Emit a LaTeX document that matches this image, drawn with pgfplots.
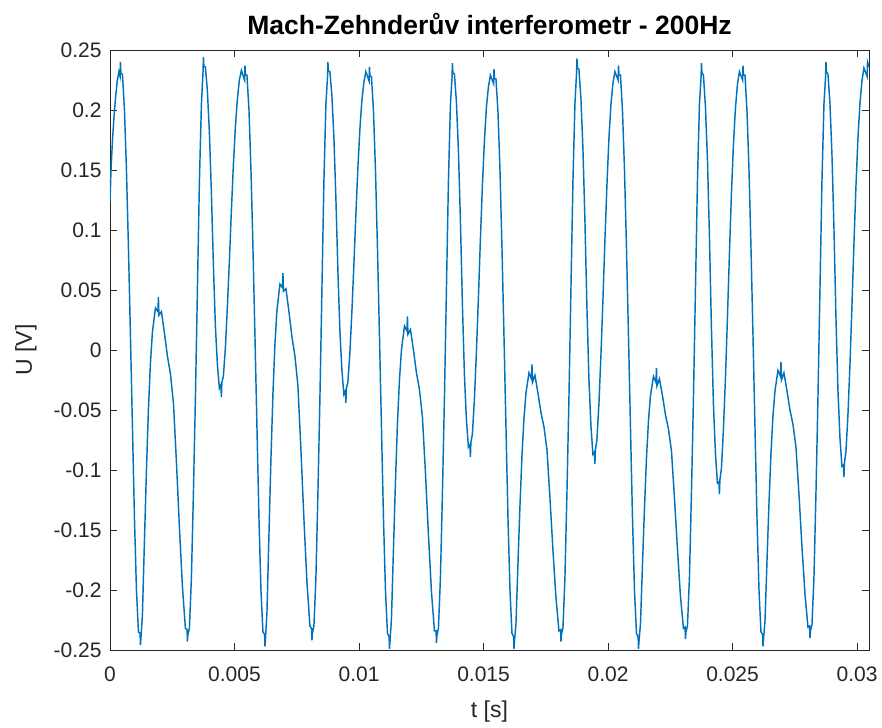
\documentclass[border=0pt]{standalone}
\usepackage{pgfplots}
\pgfplotsset{compat=1.18}
\usepackage{fontspec}
\setmainfont{Liberation Sans}
\definecolor{mblue}{RGB}{0,114,189}
\definecolor{axgray}{RGB}{38,38,38}
\begin{document}
\begin{tikzpicture}
\path[use as bounding box] (-110bp,-78bp) rectangle (772bp,650bp);
\begin{axis}[
  at={(0,0)}, anchor=south west,
  scale only axis, width=759bp, height=600bp,
  xmin=0, xmax=0.03048, ymin=-0.25, ymax=0.25,
  xtick={0,0.005,0.01,0.015,0.02,0.025,0.03},
  xticklabels={0,0.005,0.01,0.015,0.02,0.025,0.03},
  ytick={-0.25,-0.2,-0.15,-0.1,-0.05,0,0.05,0.1,0.15,0.2,0.25},
  yticklabels={-0.25,-0.2,-0.15,-0.1,-0.05,0,0.05,0.1,0.15,0.2,0.25},
  scaled x ticks=false, scaled y ticks=false,
  tick align=inside, major tick length=7bp,
  axis line style={axgray, line width=0.9bp},
  every tick/.style={axgray, line width=0.9bp},
  tick label style={font=\fontsize{21bp}{25bp}\selectfont, text=axgray},
  xticklabel style={yshift=-13bp},
  yticklabel style={xshift=-5bp},
  title={Mach-Zehnderův interferometr - 200Hz},
  title style={font=\bfseries\fontsize{26.5bp}{30bp}\selectfont, at={([yshift=10bp]axis description cs:0.5,1)}, anchor=base},
  xlabel={t [s]}, ylabel={U [V]},
  label style={font=\fontsize{23bp}{27bp}\selectfont, text=axgray},
  xlabel style={at={([yshift=-67bp]axis description cs:0.5,0)}, anchor=base},
  ylabel style={at={([xshift=-78bp]axis description cs:0,0.5)}, anchor=base},
]
\addplot[mblue, line width=1.45bp] coordinates {
(0,0.123) (0.00004,0.150) (0.00010,0.175) (0.00016,0.194) (0.00023,0.212) (0.00029,0.224) (0.00036,0.232) (0.000405,0.228) (0.000420,0.240) (0.00044,0.230)
(0.000500,0.230) (0.000581,0.200) (0.000661,0.150) (0.000741,0.085) (0.000821,0.012) (0.000902,-0.065) (0.000982,-0.140) (0.001062,-0.200) (0.001142,-0.235) (0.001208,-0.236) (0.001223,-0.246) (0.001243,-0.240)
(0.001303,-0.220) (0.001383,-0.159) (0.001463,-0.101) (0.001544,-0.049) (0.001624,-0.011) (0.001704,0.015) (0.001825,0.035) (0.001925,0.032) (0.001945,0.044) (0.001965,0.029)
(0.002065,0.032) (0.002186,0.014) (0.002306,-0.005) (0.002427,-0.020) (0.002547,-0.044) (0.002667,-0.093) (0.002788,-0.148) (0.002908,-0.197) (0.003028,-0.232) (0.003094,-0.233) (0.003109,-0.243) (0.003129,-0.237)
(0.003189,-0.232) (0.003269,-0.190) (0.003349,-0.120) (0.003430,-0.040) (0.003510,0.050) (0.003590,0.140) (0.003671,0.205) (0.003736,0.232) (0.003751,0.244) (0.003771,0.236)
(0.003831,0.236) (0.003911,0.216) (0.003992,0.181) (0.004072,0.131) (0.004152,0.071) (0.004232,0.020) (0.004313,-0.012) (0.004393,-0.032) (0.004453,-0.029) (0.004473,-0.039) (0.004493,-0.027)
(0.004553,-0.022) (0.004634,0.002) (0.004714,0.036) (0.004794,0.074) (0.004874,0.116) (0.004955,0.154) (0.005035,0.186) (0.005115,0.209) (0.005195,0.225) (0.005276,0.233)
(0.005405,0.225) (0.005420,0.237) (0.005440,0.229)
(0.005500,0.229) (0.005581,0.200) (0.005661,0.150) (0.005741,0.085) (0.005821,0.012) (0.005902,-0.065) (0.005982,-0.140) (0.006062,-0.200) (0.006142,-0.235) (0.006208,-0.237) (0.006223,-0.247) (0.006243,-0.241)
(0.006303,-0.219) (0.006383,-0.154) (0.006463,-0.091) (0.006544,-0.036) (0.006624,0.005) (0.006704,0.033) (0.006825,0.055) (0.006925,0.052) (0.006945,0.064) (0.006965,0.049)
(0.007065,0.051) (0.007186,0.032) (0.007306,0.011) (0.007427,-0.005) (0.007547,-0.030) (0.007667,-0.083) (0.007788,-0.141) (0.007908,-0.193) (0.008028,-0.230) (0.008094,-0.232) (0.008109,-0.242) (0.008129,-0.236)
(0.008189,-0.230) (0.008269,-0.190) (0.008349,-0.120) (0.008430,-0.040) (0.008510,0.050) (0.008590,0.140) (0.008671,0.205) (0.008736,0.228) (0.008751,0.240) (0.008771,0.232)
(0.008831,0.232) (0.008911,0.212) (0.008992,0.177) (0.009072,0.126) (0.009152,0.066) (0.009232,0.016) (0.009313,-0.017) (0.009393,-0.037) (0.009453,-0.034) (0.009473,-0.044) (0.009493,-0.032)
(0.009553,-0.027) (0.009634,-0.002) (0.009714,0.032) (0.009794,0.071) (0.009874,0.113) (0.009955,0.152) (0.010035,0.184) (0.010115,0.208) (0.010195,0.223) (0.010276,0.232)
(0.010405,0.224) (0.010420,0.236) (0.010440,0.228)
(0.010500,0.228) (0.010581,0.199) (0.010661,0.150) (0.010741,0.085) (0.010821,0.012) (0.010902,-0.065) (0.010982,-0.140) (0.011062,-0.200) (0.011142,-0.236) (0.011208,-0.239) (0.011223,-0.249) (0.011243,-0.243)
(0.011303,-0.224) (0.011383,-0.166) (0.011463,-0.110) (0.011544,-0.061) (0.011624,-0.025) (0.011704,0.000) (0.011825,0.020) (0.011925,0.016) (0.011945,0.028) (0.011965,0.013)
(0.012065,0.017) (0.012186,0.000) (0.012306,-0.019) (0.012427,-0.033) (0.012547,-0.056) (0.012667,-0.102) (0.012788,-0.154) (0.012908,-0.201) (0.013028,-0.234) (0.013094,-0.234) (0.013109,-0.244) (0.013129,-0.238)
(0.013189,-0.232) (0.013269,-0.190) (0.013349,-0.120) (0.013430,-0.040) (0.013510,0.050) (0.013590,0.140) (0.013671,0.205) (0.013736,0.227) (0.013751,0.239) (0.013771,0.231)
(0.013831,0.230) (0.013911,0.207) (0.013992,0.166) (0.014072,0.108) (0.014152,0.038) (0.014232,-0.020) (0.014313,-0.058) (0.014393,-0.081) (0.014453,-0.079) (0.014473,-0.089) (0.014493,-0.077)
(0.014553,-0.070) (0.014634,-0.041) (0.014714,-0.002) (0.014794,0.043) (0.014874,0.092) (0.014955,0.137) (0.015035,0.174) (0.015115,0.202) (0.015195,0.219) (0.015276,0.229)
(0.015405,0.222) (0.015420,0.234) (0.015440,0.226)
(0.015500,0.226) (0.015581,0.198) (0.015661,0.150) (0.015741,0.085) (0.015821,0.012) (0.015902,-0.065) (0.015982,-0.140) (0.016062,-0.200) (0.016142,-0.236) (0.016208,-0.239) (0.016223,-0.249) (0.016243,-0.243)
(0.016303,-0.228) (0.016383,-0.178) (0.016463,-0.130) (0.016544,-0.088) (0.016624,-0.057) (0.016704,-0.036) (0.016825,-0.019) (0.016925,-0.024) (0.016945,-0.012) (0.016965,-0.027)
(0.017065,-0.021) (0.017186,-0.036) (0.017306,-0.052) (0.017427,-0.064) (0.017547,-0.083) (0.017667,-0.123) (0.017788,-0.167) (0.017908,-0.206) (0.018028,-0.234) (0.018094,-0.233) (0.018109,-0.243) (0.018129,-0.237)
(0.018189,-0.232) (0.018269,-0.190) (0.018349,-0.120) (0.018430,-0.040) (0.018510,0.050) (0.018590,0.140) (0.018671,0.205) (0.018736,0.231) (0.018751,0.243) (0.018771,0.235)
(0.018831,0.234) (0.018911,0.210) (0.018992,0.168) (0.019072,0.108) (0.019152,0.036) (0.019232,-0.024) (0.019313,-0.063) (0.019393,-0.087) (0.019453,-0.085) (0.019473,-0.095) (0.019493,-0.083)
(0.019553,-0.075) (0.019634,-0.045) (0.019714,-0.005) (0.019794,0.041) (0.019874,0.091) (0.019955,0.137) (0.020035,0.176) (0.020115,0.204) (0.020195,0.222) (0.020276,0.232)
(0.020405,0.225) (0.020420,0.237) (0.020440,0.229)
(0.020500,0.229) (0.020581,0.199) (0.020661,0.150) (0.020741,0.085) (0.020821,0.012) (0.020902,-0.065) (0.020982,-0.140) (0.021062,-0.200) (0.021142,-0.236) (0.021208,-0.239) (0.021223,-0.249) (0.021243,-0.243)
(0.021303,-0.228) (0.021383,-0.179) (0.021463,-0.132) (0.021544,-0.090) (0.021624,-0.059) (0.021704,-0.038) (0.021825,-0.022) (0.021925,-0.027) (0.021945,-0.015) (0.021965,-0.030)
(0.022065,-0.024) (0.022186,-0.038) (0.022306,-0.054) (0.022427,-0.066) (0.022547,-0.084) (0.022667,-0.123) (0.022788,-0.166) (0.022908,-0.205) (0.023028,-0.232) (0.023094,-0.231) (0.023109,-0.241) (0.023129,-0.235)
(0.023189,-0.230) (0.023269,-0.190) (0.023349,-0.120) (0.023430,-0.040) (0.023510,0.050) (0.023590,0.140) (0.023671,0.205) (0.023736,0.227) (0.023751,0.239) (0.023771,0.231)
(0.023831,0.229) (0.023911,0.203) (0.023992,0.159) (0.024072,0.095) (0.024152,0.019) (0.024232,-0.045) (0.024313,-0.086) (0.024393,-0.111) (0.024453,-0.110) (0.024473,-0.120) (0.024493,-0.108)
(0.024553,-0.099) (0.024634,-0.066) (0.024714,-0.024) (0.024794,0.026) (0.024874,0.080) (0.024955,0.130) (0.025035,0.171) (0.025115,0.201) (0.025195,0.221) (0.025276,0.232)
(0.025405,0.225) (0.025420,0.237) (0.025440,0.229)
(0.025500,0.229) (0.025581,0.199) (0.025661,0.150) (0.025741,0.085) (0.025821,0.012) (0.025902,-0.065) (0.025982,-0.140) (0.026062,-0.200) (0.026142,-0.235) (0.026208,-0.237) (0.026223,-0.247) (0.026243,-0.241)
(0.026303,-0.226) (0.026383,-0.176) (0.026463,-0.128) (0.026544,-0.086) (0.026624,-0.055) (0.026704,-0.034) (0.026825,-0.017) (0.026925,-0.022) (0.026945,-0.010) (0.026965,-0.025)
(0.027065,-0.019) (0.027186,-0.034) (0.027306,-0.050) (0.027427,-0.062) (0.027547,-0.081) (0.027667,-0.120) (0.027788,-0.164) (0.027908,-0.203) (0.028028,-0.231) (0.028094,-0.230) (0.028109,-0.240) (0.028129,-0.234)
(0.028189,-0.229) (0.028269,-0.190) (0.028349,-0.120) (0.028430,-0.040) (0.028510,0.050) (0.028590,0.140) (0.028671,0.205) (0.028736,0.228) (0.028751,0.240) (0.028771,0.232)
(0.028831,0.230) (0.028911,0.206) (0.028992,0.163) (0.029072,0.102) (0.029152,0.028) (0.029232,-0.033) (0.029313,-0.073) (0.029393,-0.097) (0.029453,-0.096) (0.029473,-0.106) (0.029493,-0.094)
(0.029553,-0.085) (0.029634,-0.054) (0.029714,-0.013) (0.029794,0.036) (0.029874,0.088) (0.029955,0.136) (0.030035,0.176) (0.030115,0.205) (0.030195,0.224) (0.030276,0.235)
(0.030405,0.228) (0.030420,0.240) (0.030480,0.236)
};
\end{axis}
\end{tikzpicture}
\end{document}
